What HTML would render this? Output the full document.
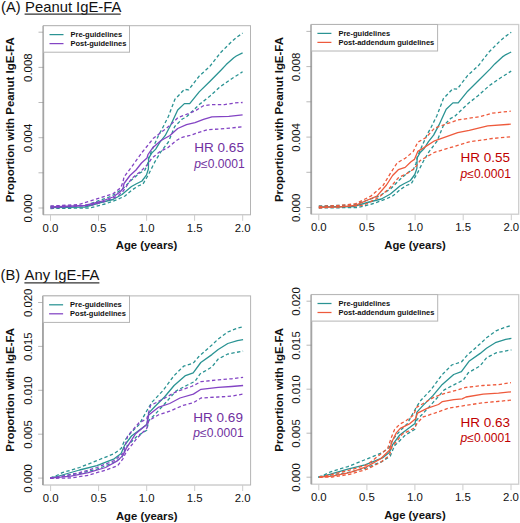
<!DOCTYPE html>
<html><head><meta charset="utf-8"><style>
html,body{margin:0;padding:0;background:#fff;width:520px;height:523px;overflow:hidden}
svg{display:block;font-family:'Liberation Sans',sans-serif}
</style></head><body>
<svg width="520" height="523" viewBox="0 0 520 523" style="font-family:'Liberation Sans',sans-serif">
<text x="1" y="12.3" font-size="14.7" fill="#111111">(A)</text>
<text x="25.1" y="12.3" font-size="14.8" fill="#111111">Peanut IgE-FA</text>
<line x1="24.6" y1="14.2" x2="120.6" y2="14.2" stroke="#333" stroke-width="1.2"/>
<text x="0.5" y="280.2" font-size="14.7" fill="#111111">(B)</text>
<text x="24.6" y="280.2" font-size="14.8" fill="#111111">Any IgE-FA</text>
<line x1="24.4" y1="282.9" x2="99.4" y2="282.9" stroke="#333" stroke-width="1.2"/>
<rect x="43.5" y="25.7" width="207.0" height="189.1" fill="none" stroke="#b4b4b4" stroke-width="1"/>
<line x1="43.3" y1="25.7" x2="43.3" y2="214.8" stroke="#a4a4a4" stroke-width="1.8"/>
<line x1="50.5" y1="214.8" x2="50.5" y2="220.8" stroke="#cccccc" stroke-width="1"/>
<text x="50.5" y="231.8" text-anchor="middle" font-size="11.4" fill="#111111">0.0</text>
<line x1="98.5" y1="214.8" x2="98.5" y2="220.8" stroke="#cccccc" stroke-width="1"/>
<text x="98.5" y="231.8" text-anchor="middle" font-size="11.4" fill="#111111">0.5</text>
<line x1="146.6" y1="214.8" x2="146.6" y2="220.8" stroke="#cccccc" stroke-width="1"/>
<text x="146.6" y="231.8" text-anchor="middle" font-size="11.4" fill="#111111">1.0</text>
<line x1="194.6" y1="214.8" x2="194.6" y2="220.8" stroke="#cccccc" stroke-width="1"/>
<text x="194.6" y="231.8" text-anchor="middle" font-size="11.4" fill="#111111">1.5</text>
<line x1="242.7" y1="214.8" x2="242.7" y2="220.8" stroke="#cccccc" stroke-width="1"/>
<text x="242.7" y="231.8" text-anchor="middle" font-size="11.4" fill="#111111">2.0</text>
<line x1="38.5" y1="208.0" x2="43.5" y2="208.0" stroke="#8a8a8a" stroke-width="0.6"/>
<text transform="translate(31.9,208.3) rotate(-90)" text-anchor="middle" font-size="11.4" fill="#111111">0.000</text>
<line x1="38.5" y1="172.8" x2="43.5" y2="172.8" stroke="#8a8a8a" stroke-width="0.6"/>
<line x1="38.5" y1="137.7" x2="43.5" y2="137.7" stroke="#8a8a8a" stroke-width="0.6"/>
<text transform="translate(31.9,138.0) rotate(-90)" text-anchor="middle" font-size="11.4" fill="#111111">0.004</text>
<line x1="38.5" y1="102.5" x2="43.5" y2="102.5" stroke="#8a8a8a" stroke-width="0.6"/>
<line x1="38.5" y1="67.4" x2="43.5" y2="67.4" stroke="#8a8a8a" stroke-width="0.6"/>
<text transform="translate(31.9,67.7) rotate(-90)" text-anchor="middle" font-size="11.4" fill="#111111">0.008</text>
<line x1="38.5" y1="32.2" x2="43.5" y2="32.2" stroke="#8a8a8a" stroke-width="0.6"/>
<text x="146.6" y="249.3" text-anchor="middle" font-size="11.3" font-weight="bold" fill="#111111">Age (years)</text>
<text transform="translate(14.3,119.8) rotate(-90)" text-anchor="middle" font-size="11.43" font-weight="bold" fill="#111111">Proportion with Peanut IgE-FA</text>
<rect x="311.4" y="24.5" width="207.3" height="189.7" fill="none" stroke="#cdcdcd" stroke-width="1.3"/>
<line x1="311.2" y1="24.5" x2="311.2" y2="214.2" stroke="#a4a4a4" stroke-width="1.8"/>
<line x1="318.8" y1="214.2" x2="318.8" y2="220.2" stroke="#cccccc" stroke-width="1"/>
<text x="318.8" y="231.2" text-anchor="middle" font-size="11.4" fill="#111111">0.0</text>
<line x1="366.9" y1="214.2" x2="366.9" y2="220.2" stroke="#cccccc" stroke-width="1"/>
<text x="366.9" y="231.2" text-anchor="middle" font-size="11.4" fill="#111111">0.5</text>
<line x1="415.1" y1="214.2" x2="415.1" y2="220.2" stroke="#cccccc" stroke-width="1"/>
<text x="415.1" y="231.2" text-anchor="middle" font-size="11.4" fill="#111111">1.0</text>
<line x1="463.2" y1="214.2" x2="463.2" y2="220.2" stroke="#cccccc" stroke-width="1"/>
<text x="463.2" y="231.2" text-anchor="middle" font-size="11.4" fill="#111111">1.5</text>
<line x1="511.3" y1="214.2" x2="511.3" y2="220.2" stroke="#cccccc" stroke-width="1"/>
<text x="511.3" y="231.2" text-anchor="middle" font-size="11.4" fill="#111111">2.0</text>
<line x1="306.4" y1="207.5" x2="311.4" y2="207.5" stroke="#8a8a8a" stroke-width="0.6"/>
<text transform="translate(299.8,207.8) rotate(-90)" text-anchor="middle" font-size="11.4" fill="#111111">0.000</text>
<line x1="306.4" y1="172.3" x2="311.4" y2="172.3" stroke="#8a8a8a" stroke-width="0.6"/>
<line x1="306.4" y1="137.1" x2="311.4" y2="137.1" stroke="#8a8a8a" stroke-width="0.6"/>
<text transform="translate(299.8,137.4) rotate(-90)" text-anchor="middle" font-size="11.4" fill="#111111">0.004</text>
<line x1="306.4" y1="101.8" x2="311.4" y2="101.8" stroke="#8a8a8a" stroke-width="0.6"/>
<line x1="306.4" y1="66.6" x2="311.4" y2="66.6" stroke="#8a8a8a" stroke-width="0.6"/>
<text transform="translate(299.8,66.9) rotate(-90)" text-anchor="middle" font-size="11.4" fill="#111111">0.008</text>
<line x1="306.4" y1="31.4" x2="311.4" y2="31.4" stroke="#8a8a8a" stroke-width="0.6"/>
<text x="415.1" y="248.7" text-anchor="middle" font-size="11.3" font-weight="bold" fill="#111111">Age (years)</text>
<text transform="translate(282.9,119.6) rotate(-90)" text-anchor="middle" font-size="11.43" font-weight="bold" fill="#111111">Proportion with Peanut IgE-FA</text>
<rect x="43.1" y="295.9" width="207.5" height="189.1" fill="none" stroke="#b4b4b4" stroke-width="1"/>
<line x1="42.9" y1="295.9" x2="42.9" y2="485.0" stroke="#a4a4a4" stroke-width="1.8"/>
<line x1="50.6" y1="485.0" x2="50.6" y2="491.0" stroke="#cccccc" stroke-width="1"/>
<text x="50.6" y="502.0" text-anchor="middle" font-size="11.4" fill="#111111">0.0</text>
<line x1="98.6" y1="485.0" x2="98.6" y2="491.0" stroke="#cccccc" stroke-width="1"/>
<text x="98.6" y="502.0" text-anchor="middle" font-size="11.4" fill="#111111">0.5</text>
<line x1="146.7" y1="485.0" x2="146.7" y2="491.0" stroke="#cccccc" stroke-width="1"/>
<text x="146.7" y="502.0" text-anchor="middle" font-size="11.4" fill="#111111">1.0</text>
<line x1="194.7" y1="485.0" x2="194.7" y2="491.0" stroke="#cccccc" stroke-width="1"/>
<text x="194.7" y="502.0" text-anchor="middle" font-size="11.4" fill="#111111">1.5</text>
<line x1="242.7" y1="485.0" x2="242.7" y2="491.0" stroke="#cccccc" stroke-width="1"/>
<text x="242.7" y="502.0" text-anchor="middle" font-size="11.4" fill="#111111">2.0</text>
<line x1="38.1" y1="478.1" x2="43.1" y2="478.1" stroke="#8a8a8a" stroke-width="0.6"/>
<text transform="translate(31.5,478.4) rotate(-90)" text-anchor="middle" font-size="11.4" fill="#111111">0.000</text>
<line x1="38.1" y1="434.2" x2="43.1" y2="434.2" stroke="#8a8a8a" stroke-width="0.6"/>
<text transform="translate(31.5,434.5) rotate(-90)" text-anchor="middle" font-size="11.4" fill="#111111">0.005</text>
<line x1="38.1" y1="390.3" x2="43.1" y2="390.3" stroke="#8a8a8a" stroke-width="0.6"/>
<text transform="translate(31.5,390.6) rotate(-90)" text-anchor="middle" font-size="11.4" fill="#111111">0.010</text>
<line x1="38.1" y1="346.4" x2="43.1" y2="346.4" stroke="#8a8a8a" stroke-width="0.6"/>
<text transform="translate(31.5,346.7) rotate(-90)" text-anchor="middle" font-size="11.4" fill="#111111">0.015</text>
<line x1="38.1" y1="302.5" x2="43.1" y2="302.5" stroke="#8a8a8a" stroke-width="0.6"/>
<text transform="translate(31.5,302.8) rotate(-90)" text-anchor="middle" font-size="11.4" fill="#111111">0.020</text>
<text x="146.7" y="519.5" text-anchor="middle" font-size="11.3" font-weight="bold" fill="#111111">Age (years)</text>
<text transform="translate(13.9,389.8) rotate(-90)" text-anchor="middle" font-size="11.43" font-weight="bold" fill="#111111">Proportion with IgE-FA</text>
<rect x="311.5" y="294.6" width="207.2" height="189.6" fill="none" stroke="#cdcdcd" stroke-width="1.3"/>
<line x1="311.3" y1="294.6" x2="311.3" y2="484.2" stroke="#a4a4a4" stroke-width="1.8"/>
<line x1="318.8" y1="484.2" x2="318.8" y2="490.2" stroke="#cccccc" stroke-width="1"/>
<text x="318.8" y="501.2" text-anchor="middle" font-size="11.4" fill="#111111">0.0</text>
<line x1="366.9" y1="484.2" x2="366.9" y2="490.2" stroke="#cccccc" stroke-width="1"/>
<text x="366.9" y="501.2" text-anchor="middle" font-size="11.4" fill="#111111">0.5</text>
<line x1="414.9" y1="484.2" x2="414.9" y2="490.2" stroke="#cccccc" stroke-width="1"/>
<text x="414.9" y="501.2" text-anchor="middle" font-size="11.4" fill="#111111">1.0</text>
<line x1="462.9" y1="484.2" x2="462.9" y2="490.2" stroke="#cccccc" stroke-width="1"/>
<text x="462.9" y="501.2" text-anchor="middle" font-size="11.4" fill="#111111">1.5</text>
<line x1="511.0" y1="484.2" x2="511.0" y2="490.2" stroke="#cccccc" stroke-width="1"/>
<text x="511.0" y="501.2" text-anchor="middle" font-size="11.4" fill="#111111">2.0</text>
<line x1="306.5" y1="477.2" x2="311.5" y2="477.2" stroke="#8a8a8a" stroke-width="0.6"/>
<text transform="translate(299.9,477.5) rotate(-90)" text-anchor="middle" font-size="11.4" fill="#111111">0.000</text>
<line x1="306.5" y1="433.2" x2="311.5" y2="433.2" stroke="#8a8a8a" stroke-width="0.6"/>
<text transform="translate(299.9,433.5) rotate(-90)" text-anchor="middle" font-size="11.4" fill="#111111">0.005</text>
<line x1="306.5" y1="389.2" x2="311.5" y2="389.2" stroke="#8a8a8a" stroke-width="0.6"/>
<text transform="translate(299.9,389.5) rotate(-90)" text-anchor="middle" font-size="11.4" fill="#111111">0.010</text>
<line x1="306.5" y1="345.2" x2="311.5" y2="345.2" stroke="#8a8a8a" stroke-width="0.6"/>
<text transform="translate(299.9,345.5) rotate(-90)" text-anchor="middle" font-size="11.4" fill="#111111">0.015</text>
<line x1="306.5" y1="301.2" x2="311.5" y2="301.2" stroke="#8a8a8a" stroke-width="0.6"/>
<text transform="translate(299.9,301.5) rotate(-90)" text-anchor="middle" font-size="11.4" fill="#111111">0.020</text>
<text x="414.9" y="518.7" text-anchor="middle" font-size="11.3" font-weight="bold" fill="#111111">Age (years)</text>
<text transform="translate(282.9,389.8) rotate(-90)" text-anchor="middle" font-size="11.43" font-weight="bold" fill="#111111">Proportion with IgE-FA</text>
<path d="M50.5,206.5 L85.0,205.5 L100.8,200.0 L111.5,196.2 L122.3,189.2 L131.5,180.0 L139.0,173.5 L145.0,170.0 L147.5,164.0 L149.0,157.0 L154.0,145.5 L158.7,135.0 L162.3,128.5 L168.5,116.2 L174.9,99.3 L184.4,89.4 L188.7,89.8 L199.2,76.1 L209.8,66.5 L220.4,52.8 L231.0,42.2 L237.3,36.9 L242.6,33.1" fill="none" stroke="#2a9393" stroke-width="1.3" stroke-dasharray="3.4,2.4" stroke-linejoin="round"/>

<path d="M50.5,208.5 L90.0,208.0 L105.0,204.0 L117.5,199.5 L125.0,196.0 L132.0,190.0 L138.0,186.0 L143.0,184.0 L146.5,178.0 L149.1,173.3 L154.9,161.8 L160.6,152.2 L168.4,142.0 L174.7,126.5 L182.3,119.0 L186.0,117.3 L199.2,104.6 L209.8,96.2 L220.4,86.6 L231.0,79.2 L242.6,71.8" fill="none" stroke="#2a9393" stroke-width="1.3" stroke-dasharray="3.4,2.4" stroke-linejoin="round"/>

<path d="M50.5,207.5 L85.0,207.0 L100.8,202.5 L113.0,199.5 L122.0,194.5 L131.5,186.5 L136.0,184.0 L142.0,181.0 L146.4,175.1 L148.4,169.0 L148.6,158.4 L151.7,153.1 L155.7,149.1 L159.8,142.4 L165.1,135.7 L170.5,125.5 L177.7,110.0 L184.4,103.6 L189.7,103.6 L199.2,91.9 L209.8,81.5 L221.4,69.8 L226.2,64.6 L233.8,57.7 L236.3,56.0 L242.6,52.8" fill="none" stroke="#2a9393" stroke-width="1.3" stroke-linejoin="round"/>

<path d="M50.5,206.0 L79.0,204.6 L88.5,201.5 L100.8,197.7 L113.0,193.8 L120.8,187.7 L123.0,182.0 L124.0,177.0 L132.4,165.8 L142.4,152.0 L149.1,143.7 L153.1,138.6 L161.1,132.4 L170.5,125.0 L178.1,117.5 L190.0,113.0 L195.0,111.0 L203.5,105.7 L211.9,104.6 L224.6,104.6 L235.2,102.9 L242.6,102.5" fill="none" stroke="#8344c4" stroke-width="1.3" stroke-dasharray="3.4,2.4" stroke-linejoin="round"/>

<path d="M50.5,208.0 L92.5,205.0 L105.0,201.3 L117.5,196.3 L123.0,191.3 L131.7,178.5 L141.0,171.1 L147.1,165.1 L151.7,158.4 L159.8,151.7 L167.8,147.7 L175.0,141.5 L180.8,137.7 L190.0,135.4 L207.7,129.6 L220.4,129.0 L242.6,126.8" fill="none" stroke="#8344c4" stroke-width="1.3" stroke-dasharray="3.4,2.4" stroke-linejoin="round"/>

<path d="M50.5,207.0 L85.0,205.5 L100.8,201.5 L113.0,197.0 L120.0,192.0 L123.0,188.5 L124.0,183.5 L130.0,175.5 L136.0,170.0 L141.5,163.0 L147.0,158.0 L148.0,154.5 L153.0,147.4 L160.7,140.7 L170.0,135.5 L177.7,128.5 L186.5,124.7 L195.0,122.6 L203.5,119.4 L211.9,116.9 L228.8,116.3 L242.6,114.8" fill="none" stroke="#8344c4" stroke-width="1.3" stroke-linejoin="round"/>

<path d="M318.8,206.0 L353.4,205.0 L369.2,199.5 L379.9,195.7 L390.7,188.7 L399.9,179.5 L407.4,172.9 L413.4,169.4 L416.0,163.4 L417.5,156.4 L422.5,144.9 L427.2,134.4 L430.8,127.9 L437.0,115.5 L443.4,98.6 L452.9,88.7 L457.2,89.1 L467.7,75.4 L478.3,65.8 L489.0,52.0 L499.6,41.4 L505.9,36.1 L511.2,32.3" fill="none" stroke="#2a9393" stroke-width="1.3" stroke-dasharray="3.4,2.4" stroke-linejoin="round"/>

<path d="M318.8,208.0 L358.4,207.5 L373.4,203.5 L385.9,199.0 L393.4,195.5 L400.4,189.5 L406.4,185.5 L411.4,183.5 L414.9,177.4 L417.6,172.7 L423.4,161.2 L429.1,151.6 L436.9,141.4 L443.2,125.9 L450.8,118.3 L454.5,116.6 L467.7,103.9 L478.3,95.5 L489.0,85.9 L499.6,78.5 L511.2,71.1" fill="none" stroke="#2a9393" stroke-width="1.3" stroke-dasharray="3.4,2.4" stroke-linejoin="round"/>

<path d="M318.8,207.0 L353.4,206.5 L369.2,202.0 L381.4,199.0 L390.4,194.0 L399.9,186.0 L404.4,183.5 L410.4,180.5 L414.8,174.5 L416.9,168.4 L417.1,157.8 L420.2,152.5 L424.2,148.5 L428.3,141.8 L433.6,135.1 L439.0,124.9 L446.2,109.3 L452.9,102.9 L458.2,102.9 L467.7,91.2 L478.3,80.8 L490.0,69.1 L494.8,63.9 L502.4,56.9 L504.9,55.2 L511.2,52.0" fill="none" stroke="#2a9393" stroke-width="1.3" stroke-linejoin="round"/>

<path d="M318.8,206.5 L340.0,205.4 L355.4,203.8 L370.8,196.2 L383.1,185.4 L390.5,173.2 L397.2,162.8 L405.2,158.3 L413.3,151.4 L417.8,142.2 L425.9,137.6 L434.6,128.1 L457.7,120.0 L480.8,116.5 L492.3,113.1 L510.8,111.2" fill="none" stroke="#ee5a3c" stroke-width="1.3" stroke-dasharray="3.4,2.4" stroke-linejoin="round"/>

<path d="M318.8,208.0 L363.1,205.4 L378.5,197.7 L389.2,188.5 L392.6,184.6 L398.3,177.8 L407.5,173.2 L414.4,168.6 L420.1,160.6 L434.6,152.3 L457.7,145.4 L469.2,141.9 L492.3,138.5 L510.8,136.8" fill="none" stroke="#ee5a3c" stroke-width="1.3" stroke-dasharray="3.4,2.4" stroke-linejoin="round"/>

<path d="M318.8,207.3 L340.0,206.8 L355.4,205.4 L367.7,200.0 L376.9,196.2 L386.5,185.0 L392.6,175.5 L398.3,169.7 L405.2,167.4 L411.0,161.7 L414.4,159.4 L417.8,151.4 L423.6,147.9 L434.6,140.8 L457.7,132.7 L469.2,130.4 L487.7,125.8 L510.8,124.2" fill="none" stroke="#ee5a3c" stroke-width="1.3" stroke-linejoin="round"/>

<path d="M50.2,477.9 L55.4,476.1 L62.3,472.7 L79.6,467.5 L96.9,460.6 L114.2,453.6 L121.1,448.4 L124.6,440.5 L131.5,432.2 L139.1,424.6 L148.7,407.4 L152.5,401.6 L162.6,391.0 L174.1,375.6 L183.6,366.2 L193.2,363.2 L198.9,356.5 L211.9,345.0 L218.2,339.0 L227.8,332.0 L237.4,328.2 L243.1,326.8" fill="none" stroke="#2a9393" stroke-width="1.3" stroke-dasharray="3.4,2.4" stroke-linejoin="round"/>

<path d="M50.2,478.2 L62.3,476.1 L79.6,473.5 L96.9,469.2 L114.2,462.3 L122.0,457.1 L126.3,446.7 L127.6,445.6 L137.2,436.0 L146.8,430.3 L148.7,420.7 L154.4,415.0 L164.5,404.0 L176.0,391.0 L187.5,385.0 L195.1,381.2 L200.0,374.0 L211.9,367.0 L218.2,359.0 L227.8,354.0 L243.1,351.1" fill="none" stroke="#2a9393" stroke-width="1.3" stroke-dasharray="3.4,2.4" stroke-linejoin="round"/>

<path d="M50.2,478.0 L55.4,477.0 L79.6,470.0 L96.9,465.7 L114.2,458.8 L121.1,453.6 L124.6,445.3 L131.5,436.0 L139.1,430.3 L146.8,424.6 L148.7,413.1 L154.9,406.5 L164.5,397.0 L174.1,385.5 L185.5,375.6 L193.2,372.8 L200.8,362.5 L211.9,354.6 L218.2,349.5 L227.8,343.5 L237.4,340.6 L243.1,339.6" fill="none" stroke="#2a9393" stroke-width="1.3" stroke-linejoin="round"/>

<path d="M50.2,478.0 L62.3,476.1 L79.6,472.7 L96.9,467.5 L114.2,460.6 L122.9,453.6 L126.3,441.5 L127.6,436.0 L139.1,422.7 L146.8,418.8 L150.6,405.4 L162.1,399.7 L173.5,393.0 L180.0,390.3 L191.5,386.5 L201.0,381.7 L218.2,379.8 L231.6,378.8 L243.1,377.3" fill="none" stroke="#8344c4" stroke-width="1.3" stroke-dasharray="3.4,2.4" stroke-linejoin="round"/>

<path d="M50.2,478.4 L71.0,477.9 L88.3,475.3 L105.6,470.1 L117.7,465.7 L122.9,458.8 L126.3,451.9 L137.2,438.0 L146.8,428.4 L148.7,420.7 L158.2,415.0 L169.7,411.2 L183.1,405.4 L193.4,402.7 L201.0,398.0 L218.2,397.0 L231.6,396.1 L243.1,394.1" fill="none" stroke="#8344c4" stroke-width="1.3" stroke-dasharray="3.4,2.4" stroke-linejoin="round"/>

<path d="M50.2,478.2 L71.0,476.1 L88.3,472.7 L105.6,467.5 L117.7,460.6 L122.9,455.4 L126.3,448.4 L135.3,434.1 L146.8,424.6 L148.7,415.0 L158.2,407.4 L169.7,403.5 L180.0,398.0 L193.4,394.1 L201.0,389.3 L218.2,387.4 L231.6,386.5 L243.1,385.5" fill="none" stroke="#8344c4" stroke-width="1.3" stroke-linejoin="round"/>

<path d="M318.4,477.0 L323.6,475.2 L330.5,471.8 L347.8,466.6 L365.1,459.7 L382.4,452.6 L389.3,447.4 L392.8,439.5 L399.7,431.2 L407.3,423.6 L416.9,406.3 L420.7,400.5 L430.8,389.9 L442.3,374.5 L451.8,365.0 L461.4,362.0 L467.1,355.3 L480.2,343.8 L486.5,337.8 L496.1,330.8 L505.7,327.0 L511.4,325.6" fill="none" stroke="#2a9393" stroke-width="1.3" stroke-dasharray="3.4,2.4" stroke-linejoin="round"/>

<path d="M318.4,477.3 L330.5,475.2 L347.8,472.6 L365.1,468.3 L382.4,461.4 L390.2,456.2 L394.5,445.7 L395.8,444.6 L405.4,435.0 L415.0,429.3 L416.9,419.7 L422.6,414.0 L432.7,402.9 L444.2,389.9 L455.7,383.9 L463.3,380.1 L468.2,372.9 L480.2,365.8 L486.5,357.8 L496.1,352.8 L511.4,349.9" fill="none" stroke="#2a9393" stroke-width="1.3" stroke-dasharray="3.4,2.4" stroke-linejoin="round"/>

<path d="M318.4,477.1 L323.6,476.1 L347.8,469.1 L365.1,464.8 L382.4,457.9 L389.3,452.6 L392.8,444.3 L399.7,435.0 L407.3,429.3 L415.0,423.6 L416.9,412.1 L423.1,405.4 L432.7,395.9 L442.3,384.4 L453.7,374.5 L461.4,371.7 L469.0,361.3 L480.2,353.4 L486.5,348.3 L496.1,342.3 L505.7,339.4 L511.4,338.4" fill="none" stroke="#2a9393" stroke-width="1.3" stroke-linejoin="round"/>

<path d="M319.3,477.0 L332.3,474.4 L349.6,470.1 L366.9,464.9 L379.0,455.4 L387.7,448.4 L391.1,438.1 L394.6,429.4 L399.8,424.2 L406.0,420.7 L413.7,415.0 L416.5,407.4 L423.2,403.5 L434.7,396.8 L446.2,393.0 L456.5,390.3 L466.0,387.4 L483.2,385.5 L498.5,384.6 L511.0,382.7" fill="none" stroke="#ee5a3c" stroke-width="1.3" stroke-dasharray="3.4,2.4" stroke-linejoin="round"/>

<path d="M319.3,477.4 L332.3,477.0 L349.6,474.4 L366.9,469.2 L380.7,462.3 L389.4,455.4 L392.0,446.7 L398.0,439.8 L402.2,434.1 L413.7,428.4 L417.5,422.7 L423.2,416.9 L434.7,413.1 L448.1,408.3 L464.1,405.6 L483.2,402.7 L511.0,400.2" fill="none" stroke="#ee5a3c" stroke-width="1.3" stroke-dasharray="3.4,2.4" stroke-linejoin="round"/>

<path d="M319.3,477.2 L332.3,476.1 L349.6,472.7 L366.9,466.6 L380.7,458.8 L389.4,450.2 L392.0,441.5 L396.3,432.9 L400.3,428.4 L409.9,423.6 L415.6,418.8 L417.5,413.1 L427.1,408.3 L438.5,404.5 L442.4,401.6 L453.8,399.7 L462.2,398.9 L466.0,397.0 L483.2,394.1 L498.5,393.2 L511.0,391.8" fill="none" stroke="#ee5a3c" stroke-width="1.3" stroke-linejoin="round"/>

<rect x="43.5" y="25.7" width="86" height="26.5" fill="#fff" stroke="#b4b4b4" stroke-width="1"/>
<line x1="49.5" y1="34.6" x2="63.5" y2="34.6" stroke="#2a9393" stroke-width="1.25"/>
<line x1="49.5" y1="43.599999999999994" x2="63.5" y2="43.599999999999994" stroke="#8344c4" stroke-width="1.25"/>
<text x="70.5" y="37.0" font-size="7.5" font-weight="bold" fill="#111111">Pre-guidelines</text>
<text x="70.5" y="46.0" font-size="7.5" font-weight="bold" fill="#111111">Post-guidelines</text>
<rect x="311.4" y="24.5" width="126.2" height="26.5" fill="#fff" stroke="#b4b4b4" stroke-width="1"/>
<line x1="317.4" y1="33.4" x2="331.4" y2="33.4" stroke="#2a9393" stroke-width="1.25"/>
<line x1="317.4" y1="42.4" x2="331.4" y2="42.4" stroke="#ee5a3c" stroke-width="1.25"/>
<text x="338.4" y="35.8" font-size="7.5" font-weight="bold" fill="#111111">Pre-guidelines</text>
<text x="338.4" y="44.8" font-size="7.5" font-weight="bold" fill="#111111">Post-addendum guidelines</text>
<rect x="43.1" y="295.9" width="86.4" height="26.5" fill="#fff" stroke="#b4b4b4" stroke-width="1"/>
<line x1="49.1" y1="304.79999999999995" x2="63.1" y2="304.79999999999995" stroke="#2a9393" stroke-width="1.25"/>
<line x1="49.1" y1="313.79999999999995" x2="63.1" y2="313.79999999999995" stroke="#8344c4" stroke-width="1.25"/>
<text x="70.1" y="307.2" font-size="7.5" font-weight="bold" fill="#111111">Pre-guidelines</text>
<text x="70.1" y="316.2" font-size="7.5" font-weight="bold" fill="#111111">Post-guidelines</text>
<rect x="311.5" y="294.6" width="126.2" height="26.5" fill="#fff" stroke="#b4b4b4" stroke-width="1"/>
<line x1="317.5" y1="303.5" x2="331.5" y2="303.5" stroke="#2a9393" stroke-width="1.25"/>
<line x1="317.5" y1="312.5" x2="331.5" y2="312.5" stroke="#ee5a3c" stroke-width="1.25"/>
<text x="338.5" y="305.90000000000003" font-size="7.5" font-weight="bold" fill="#111111">Pre-guidelines</text>
<text x="338.5" y="314.90000000000003" font-size="7.5" font-weight="bold" fill="#111111">Post-addendum guidelines</text>
<text x="243.9" y="152.1" font-size="13.5" text-anchor="end" fill="#7030a0">HR 0.65</text>
<text x="244.70000000000002" y="167.6" font-size="12.1" text-anchor="end" fill="#7030a0"><tspan font-style="italic">p</tspan>≤0.0001</text>
<text x="510.1" y="162.3" font-size="13.5" text-anchor="end" fill="#c00000">HR 0.55</text>
<text x="510.90000000000003" y="177.8" font-size="12.1" text-anchor="end" fill="#c00000"><tspan font-style="italic">p</tspan>≤0.0001</text>
<text x="242.9" y="421.6" font-size="13.5" text-anchor="end" fill="#7030a0">HR 0.69</text>
<text x="243.70000000000002" y="437.1" font-size="12.1" text-anchor="end" fill="#7030a0"><tspan font-style="italic">p</tspan>≤0.0001</text>
<text x="510.1" y="426.6" font-size="13.5" text-anchor="end" fill="#c00000">HR 0.63</text>
<text x="510.90000000000003" y="442.1" font-size="12.1" text-anchor="end" fill="#c00000"><tspan font-style="italic">p</tspan>≤0.0001</text>
</svg>
</body></html>
